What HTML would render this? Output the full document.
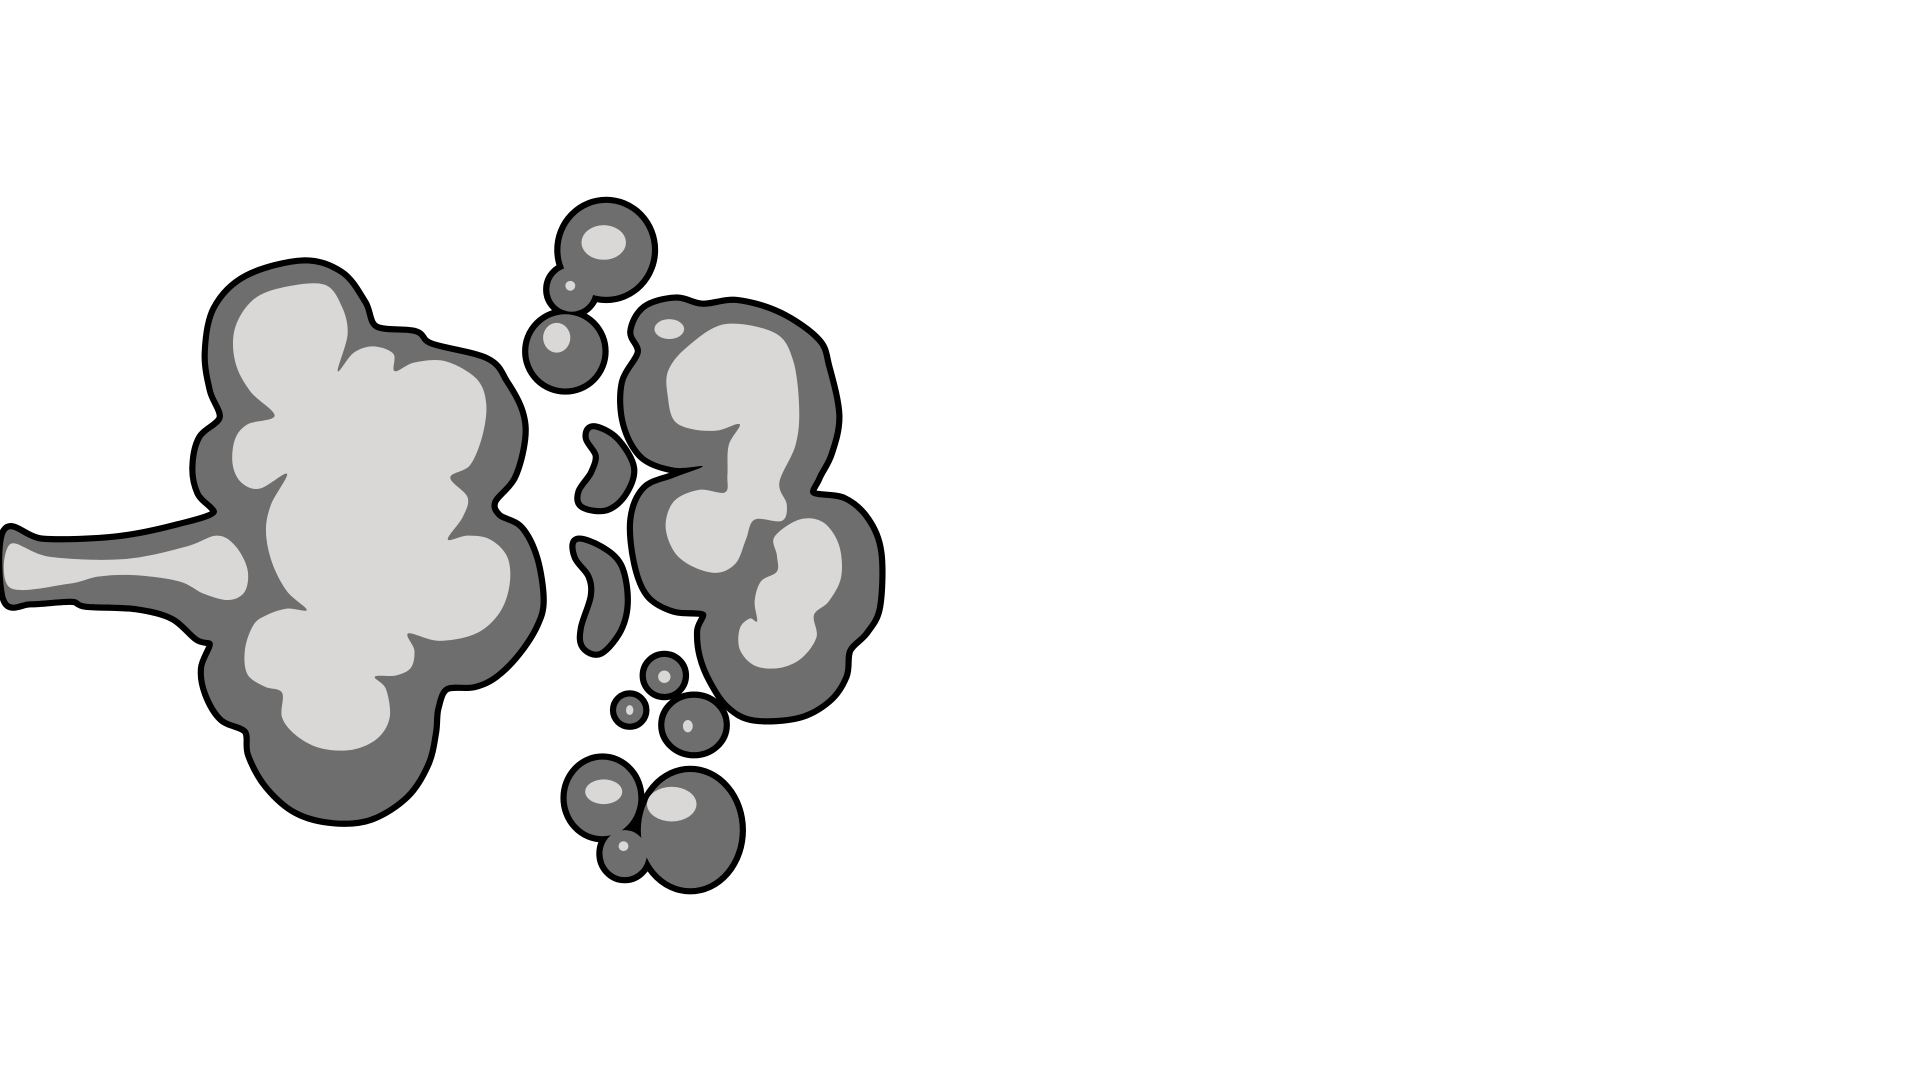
<!DOCTYPE html>
<html><head><meta charset="utf-8"><title>Smoke puff</title>
<style>html,body{margin:0;padding:0;background:#fff;width:1920px;height:1080px;overflow:hidden}svg{display:block}</style>
</head><body>
<svg id="art" width="1920" height="1080" viewBox="0 0 1552 873" xmlns="http://www.w3.org/2000/svg">
<g id="strokes" fill="#000" stroke="#000" stroke-width="10" stroke-linejoin="round"></g>
<g id="fills" fill="#6e6e6e"></g>
<g id="lights" fill="#d9d8d6"></g>
</svg>
<script>
const NS='http://www.w3.org/2000/svg';
function smooth(p){let d='M'+p[0][0]+','+p[0][1];const n=p.length;
for(let i=0;i<n;i++){const p0=p[(i-1+n)%n],p1=p[i],p2=p[(i+1)%n],p3=p[(i+2)%n];
const c1=[p1[0]+(p2[0]-p0[0])/6,p1[1]+(p2[1]-p0[1])/6],c2=[p2[0]-(p3[0]-p1[0])/6,p2[1]-(p3[1]-p1[1])/6];
d+=' C'+c1[0].toFixed(1)+','+c1[1].toFixed(1)+' '+c2[0].toFixed(1)+','+c2[1].toFixed(1)+' '+p2[0]+','+p2[1];}
return d+'Z';}
const mainCloud=[[5,430],[35,438],[95,436],[145,426],[175,415],[162,398],[158,378],[163,355],[180,338],[172,315],[168,285],[175,250],[200,225],[245,213],[275,222],[293,245],[303,266],[335,270],[348,280],[393,292],[408,310],[420,333],[422,355],[414,385],[398,405],[402,418],[420,428],[432,452],[437,485],[432,505],[418,527],[400,545],[383,553],[360,555],[352,572],[350,592],[344,617],[328,642],[300,660],[270,663],[240,655],[217,635],[203,610],[200,590],[180,580],[168,560],[165,540],[172,520],[160,515],[140,498],[110,490],[70,488],[58,484],[25,486],[5,484]];
const mainInner=[[190,265],[205,242],[230,232],[262,230],[276,247],[281,270],[273,300],[286,285],[302,280],[318,286],[319,300],[335,293],[360,292],[385,306],[393,326],[390,352],[380,376],[364,386],[378,402],[374,418],[362,436],[378,433],[396,436],[410,450],[412,472],[404,495],[385,512],[355,518],[330,512],[335,526],[332,540],[320,546],[303,547],[312,557],[315,580],[305,597],[285,606],[260,605],[240,595],[228,580],[228,560],[214,555],[200,545],[198,525],[205,505],[216,497],[232,492],[248,493],[232,478],[220,455],[215,430],[219,408],[232,383],[210,395],[195,390],[188,375],[190,355],[200,343],[222,336],[202,316],[190,292]];
const tailInner=[[8,440],[40,450],[100,452],[150,442],[175,433],[190,441],[200,460],[198,478],[185,485],[165,480],[145,470],[110,465],[80,466],[55,472],[8,475]];
const rightCloud=[[518,285],[512,268],[522,250],[546,243],[568,248],[596,245],[630,255],[660,276],[668,297],[676,336],[670,366],[660,386],[656,400],[682,405],[700,421],[710,447],[709,490],[699,510],[685,525],[682,546],[669,565],[645,578],[610,580],[590,570],[576,550],[568,530],[566,510],[570,495],[545,492],[525,480],[515,455],[512,420],[522,396],[545,386],[568,377],[545,378],[520,368],[506,342],[505,310]];
const rightInnerA=[[540,300],[556,280],[586,262],[626,269],[641,291],[646,330],[643,360],[630,390],[636,408],[632,421],[610,420],[603,436],[595,455],[580,463],[560,458],[545,446],[538,425],[545,405],[565,396],[586,398],[588,384],[589,360],[598,343],[580,348],[560,347],[545,340],[540,322]];
const rightInnerB=[[626,434],[646,420],[665,422],[678,440],[680,466],[670,486],[658,497],[660,515],[648,532],[630,540],[610,538],[598,525],[598,508],[606,500],[612,502],[610,486],[615,470],[628,462],[628,449]];
const crescentA=[[480,347],[497,356],[510,378],[504,398],[490,410],[472,408],[470,398],[480,383],[484,368],[476,354]];
const crescentB=[[467,438],[485,444],[500,458],[505,485],[500,508],[485,526],[473,522],[472,508],[480,482],[478,465],[467,450]];
const circles=[[490,202,37,38],[462,234,18,18],[457,284,30,30],[537,546,15,15],[509,574,11,11],[561,586,24,22],[487,645,29,31],[558,671,40,47],[505,690,18,19]];
const lightEllipses=[[488,196,18,14],[461,231,4,4],[450,273,11,12],[541,266,12,8],[488,640,15,10],[543,650,20,14],[556,587,4,5],[504,684,4,4],[537,547,5,5],[509,574,3,4]];
function add(g,name,el,attrs){const e=document.createElementNS(NS,el);for(const k in attrs)e.setAttribute(k,attrs[k]);


document.getElementById(g).appendChild(e);}
const shapes=[['main-cloud',mainCloud],['right-cloud',rightCloud],['crescent-top',crescentA],['crescent-bottom',crescentB]];
['strokes','fills'].forEach(g=>{
shapes.forEach(s=>add(g,s[0],'path',{d:smooth(s[1])}));
circles.forEach((c,i)=>add(g,'bubble-'+i,'ellipse',{cx:c[0],cy:c[1],rx:c[2],ry:c[3]}));
});
[['main-highlight',mainInner],['tail-highlight',tailInner],['right-highlight-a',rightInnerA],['right-highlight-b',rightInnerB]].forEach(s=>add('lights',s[0],'path',{d:smooth(s[1])}));
lightEllipses.forEach((c,i)=>add('lights','bubble-highlight-'+i,'ellipse',{cx:c[0],cy:c[1],rx:c[2],ry:c[3]}));
</script>
</body></html>
